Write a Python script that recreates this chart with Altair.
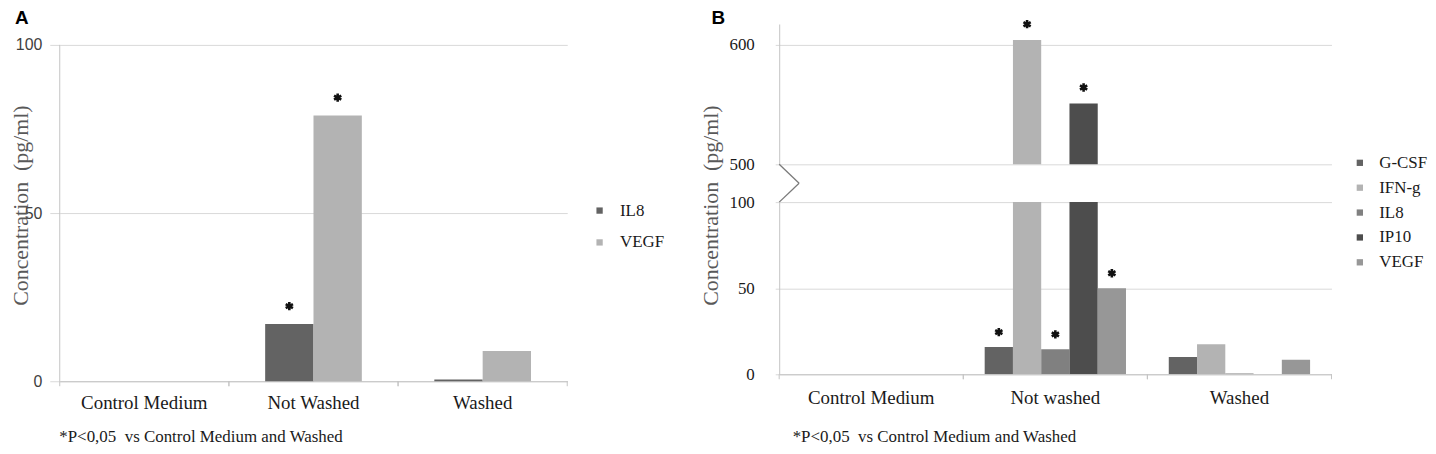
import altair as alt
import pandas as pd

# ---------------- data ----------------
categories_a = ["Control Medium", "Not Washed", "Washed"]
series_a = ["IL8", "VEGF"]
il8_a = [0.0, 17.0, 0.5]
vegf_a = [0.0, 79.0, 9.0]
sig_il8_a = [0, 1, 0]
sig_vegf_a = [0, 1, 0]
colors_a = ["#636363", "#b3b3b3"]

categories_b = ["Control Medium", "Not washed", "Washed"]
series_b = ["G-CSF", "IFN-g", "IL8", "IP10", "VEGF"]
gcsf_b = [0.0, 15.8, 10.0]
ifng_b = [0.0, 604.0, 17.4]
il8_b = [0.0, 14.5, 0.5]
ip10_b = [0.0, 551.0, 0.0]
vegf_b = [0.0, 50.0, 8.5]
sig_gcsf_b = [0, 1, 0]
sig_ifng_b = [0, 1, 0]
sig_il8_b = [0, 1, 0]
sig_ip10_b = [0, 1, 0]
sig_vegf_b = [0, 1, 0]
colors_b = ["#636363", "#b3b3b3", "#808080", "#4d4d4d", "#979797"]

ticks_a = [0, 50, 100]
ticks_b_low = [0, 50, 100]
ticks_b_up = [500, 600]

panel_labels = ["A", "B"]
footnote = "*P<0,05 \u00a0vs Control Medium and Washed"
y_title = "Concentration \u00a0(pg/ml)"


def long_df(cats, names, values, sigs):
    rows = []
    for s, vals, sg in zip(names, values, sigs):
        for c, v, g in zip(cats, vals, sg):
            rows.append({"cat": c, "series": s, "value": v, "sig": g})
    return pd.DataFrame(rows)


df_a = long_df(categories_a, series_a, [il8_a, vegf_a], [sig_il8_a, sig_vegf_a])
df_b = long_df(categories_b, series_b,
               [gcsf_b, ifng_b, il8_b, ip10_b, vegf_b],
               [sig_gcsf_b, sig_ifng_b, sig_il8_b, sig_ip10_b, sig_vegf_b])
cat_df_a = pd.DataFrame({"cat": categories_a})
cat_df_b = pd.DataFrame({"cat": categories_b})
one = pd.DataFrame({"k": [0]})

# ---------------- styling ----------------
SERIF = "Liberation Serif"
SANS = "Liberation Sans"
GRID = "#d9d9d9"
AXIS = "#c4c4c4"
TXT = "#1a1a1a"
STAR = "M0,-1L0,1M-0.87,-0.5L0.87,0.5M-0.87,0.5L0.87,-0.5"

W_A, H_A = 510, 359
YMAX_A = 100 * H_A / 338.0
W_B = 555
H_UP, H_LOW = 141, 173
YMAX_UP = 500 + H_UP / 1.2


def x_def(cats, axis, band_position=None):
    kw = {}
    if band_position is not None:
        kw["bandPosition"] = band_position
    return alt.X("cat:N", sort=cats,
                 scale=alt.Scale(paddingInner=0, paddingOuter=0),
                 axis=axis, **kw)


def x_axis(labelpad, tx, ty):
    return alt.Axis(title=footnote, titleX=tx, titleY=ty, titleAlign="left",
                    titleBaseline="alphabetic", titleAngle=0, titleFont=SERIF,
                    titleFontSize=17, titleFontWeight="normal", titleColor=TXT,
                    labelAngle=0, labelFont=SERIF, labelFontSize=19,
                    labelColor=TXT, labelPadding=labelpad, ticks=False,
                    domainColor=AXIS, grid=False)


def panel_letter(text, dx):
    return alt.Chart(one).mark_text(
        text=text, font=SANS, fontSize=19, fontWeight="bold", color="#000000",
        align="left", baseline="alphabetic").encode(x=alt.value(dx), y=alt.value(0))


# ---------------- panel A ----------------
xa_axis = x_axis(12, -1, 61)
xa = x_def(categories_a, xa_axis)
xoff_a = alt.XOffset("series:N", sort=series_a,
                     scale=alt.Scale(paddingInner=0, paddingOuter=0.75))
ya = alt.Y("value:Q", scale=alt.Scale(domain=[0, YMAX_A], nice=False),
           axis=alt.Axis(values=ticks_a, title=y_title, titleX=-39, titleY=182,
                         titleBaseline="middle", titleAlign="center",
                         titleFont=SERIF, titleFontSize=22,
                         titleFontWeight="normal", titleColor="#595959",
                         domain=False, grid=True, gridColor=GRID, ticks=True,
                         tickSize=10, tickColor=GRID, labelFont=SANS,
                         labelFontSize=16, labelColor="#404040", labelPadding=8))
color_a = alt.Color("series:N", scale=alt.Scale(domain=series_a, range=colors_a),
                    legend=alt.Legend(title=None, orient="none", legendX=534,
                                      legendY=179, symbolType="square",
                                      symbolSize=40, symbolStrokeWidth=0,
                                      labelFont=SERIF, labelFontSize=17,
                                      labelColor=TXT, labelOffset=12,
                                      rowPadding=14, padding=0))

bars_a = alt.Chart(df_a).mark_bar().encode(x=xa, xOffset=xoff_a, y=ya, color=color_a)
stars_a = alt.Chart(df_a).transform_filter("datum.sig == 1").mark_point(
    shape=STAR, size=70, filled=False, strokeWidth=2.6, color="#111111",
    opacity=1, yOffset=-18).encode(x=xa, xOffset=xoff_a, y=ya)
tick_a0 = alt.Chart(cat_df_a).mark_rule(color=AXIS).encode(
    x=x_def(categories_a, xa_axis, 0), y=alt.value(H_A), y2=alt.value(H_A + 5))
tick_a1 = alt.Chart(cat_df_a).mark_rule(color=AXIS).encode(
    x=x_def(categories_a, xa_axis, 1), y=alt.value(H_A), y2=alt.value(H_A + 5))
axisline_a = alt.Chart(one).mark_rule(color=AXIS).encode(
    x=alt.value(0), y=alt.Y(datum=0), y2=alt.Y2(datum=100))

panel_a = alt.layer(bars_a, stars_a, tick_a0, tick_a1, axisline_a,
                    panel_letter(panel_labels[0], -45)).properties(width=W_A, height=H_A)

# ---------------- panel B ----------------
xoff_b = alt.XOffset("series:N", sort=series_b,
                     scale=alt.Scale(paddingInner=0, paddingOuter=0.757))


def y_axis_b(vals, with_title):
    kw = dict(values=vals, domain=True, domainColor=AXIS, grid=True,
              gridColor=GRID, ticks=True, tickSize=4, tickColor=GRID,
              labelFont=SERIF, labelFontSize=17, labelColor=TXT,
              labelPadding=21)
    if with_title:
        kw.update(title=y_title, titleX=-69, titleY=3, titleBaseline="middle",
                  titleAlign="center", titleFont=SERIF, titleFontSize=22,
                  titleFontWeight="normal", titleColor="#595959")
    else:
        kw.update(title=None)
    return alt.Axis(**kw)


# upper (broken) part
xb_up = x_def(categories_b, None)
yb_up = alt.Y("value:Q", scale=alt.Scale(domain=[500, YMAX_UP], nice=False, zero=False),
              axis=y_axis_b(ticks_b_up, False))
color_b_up = alt.Color("series:N", scale=alt.Scale(domain=series_b, range=colors_b),
                       legend=None)
bars_up = alt.Chart(df_b).mark_bar(clip=True).encode(
    x=xb_up, xOffset=xoff_b, y=yb_up, color=color_b_up)
stars_up = alt.Chart(df_b).transform_filter(
    "datum.sig == 1 && datum.value >= 500").mark_point(
    shape=STAR, size=70, filled=False, strokeWidth=2.6, color="#111111",
    opacity=1, yOffset=-16).encode(x=xb_up, xOffset=xoff_b, y=yb_up)
upper = alt.layer(bars_up, stars_up, panel_letter(panel_labels[1], -68)).properties(
    width=W_B, height=H_UP)

# lower part
xb_axis = x_axis(14, 13, 68)
xb = x_def(categories_b, xb_axis)
yb_low = alt.Y("value:Q", scale=alt.Scale(domain=[0, 100], nice=False),
               axis=y_axis_b(ticks_b_low, True))
color_b = alt.Color("series:N", scale=alt.Scale(domain=series_b, range=colors_b),
                    legend=alt.Legend(title=None, orient="none", legendX=575,
                                      legendY=-48, symbolType="square",
                                      symbolSize=40, symbolStrokeWidth=0,
                                      labelFont=SERIF, labelFontSize=17,
                                      labelColor=TXT, labelOffset=11,
                                      rowPadding=7, padding=0))
bars_low = alt.Chart(df_b).mark_bar(clip=True).encode(
    x=xb, xOffset=xoff_b, y=yb_low, color=color_b)
stars_low = alt.Chart(df_b).transform_filter(
    "datum.sig == 1 && datum.value < 100").mark_point(
    shape=STAR, size=70, filled=False, strokeWidth=2.6, color="#111111",
    opacity=1, yOffset=-15).encode(x=xb, xOffset=xoff_b, y=yb_low)
tick_b0 = alt.Chart(cat_df_b).mark_rule(color=AXIS).encode(
    x=x_def(categories_b, xb_axis, 0), y=alt.value(H_LOW), y2=alt.value(H_LOW + 5))
tick_b1 = alt.Chart(cat_df_b).mark_rule(color=AXIS).encode(
    x=x_def(categories_b, xb_axis, 1), y=alt.value(H_LOW), y2=alt.value(H_LOW + 5))
zig1 = alt.Chart(one).mark_rule(color="#7a7a7a", strokeWidth=1.3, clip=False).encode(
    x=alt.value(0), x2=alt.value(20), y=alt.value(-38), y2=alt.value(-19))
zig2 = alt.Chart(one).mark_rule(color="#7a7a7a", strokeWidth=1.3, clip=False).encode(
    x=alt.value(20), x2=alt.value(0), y=alt.value(-19), y2=alt.value(0))
lower = alt.layer(bars_low, stars_low, tick_b0, tick_b1, zig1, zig2).properties(
    width=W_B, height=H_LOW)

panel_b = alt.vconcat(upper, lower, spacing=38, bounds="flush").resolve_scale(
    color="independent", x="independent", y="independent", xOffset="independent")

chart = alt.hconcat(panel_a, panel_b, spacing=213, bounds="flush").resolve_scale(
    color="independent", x="independent", y="independent", xOffset="independent"
).configure_view(stroke=None).properties(
    padding={"left": 2, "top": 0, "right": 0, "bottom": 0})

chart.save("out.html", embed_options={"renderer": "svg", "actions": False})
